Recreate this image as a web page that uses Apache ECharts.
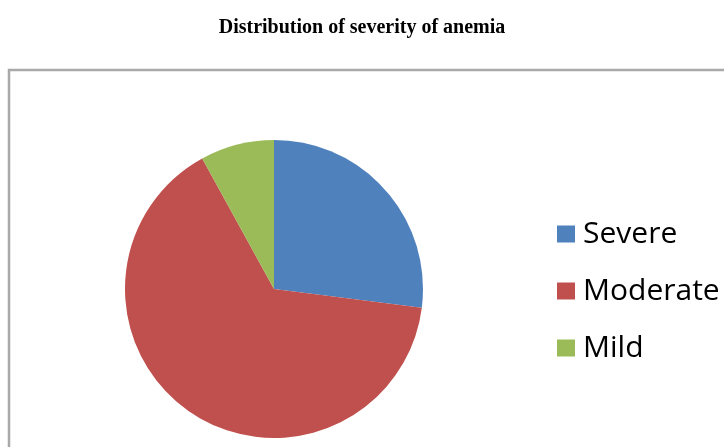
<!DOCTYPE html>
<html>
<head>
<meta charset="utf-8">
<script src="https://cdn.jsdelivr.net/npm/echarts@6/dist/echarts.min.js"></script>
<style>
  html, body { margin: 0; padding: 0; background: #fff; }
  #chart { width: 724px; height: 447px; }
</style>
</head>
<body>
<div id="chart"></div>
<script>
// Severity groups and their share of anemic cases (%)
const categories = ['Severe', 'Moderate', 'Mild'];
const shares = [27, 65, 8];
const colors = ['#4F81BD', '#C0504D', '#9BBB59'];

const chart = echarts.init(document.getElementById('chart'));

chart.setOption({
  backgroundColor: '#ffffff',
  animation: false,
  title: {
    text: 'Distribution of severity of anemia',
    left: 'center',
    top: 13,
    textStyle: {
      fontFamily: '"Liberation Serif", "DejaVu Serif", serif',
      fontWeight: 'bold',
      fontSize: 20,
      color: '#000'
    }
  },
  graphic: [{
    type: 'rect',
    silent: true,
    z: -1,
    shape: { x: 9, y: 70, width: 760, height: 420 },
    style: { fill: 'none', stroke: '#a9a9a9', lineWidth: 2.5 }
  }],
  legend: {
    orient: 'vertical',
    left: 552,
    top: 214,
    icon: 'rect',
    itemWidth: 18,
    itemHeight: 17,
    itemGap: 27,
    textStyle: {
      fontFamily: '"Open Sans", sans-serif',
      fontSize: 30,
      lineHeight: 30,
      color: '#000',
      padding: [0, 0, 0, 3]
    },
    data: categories
  },
  series: [{
    type: 'pie',
    center: [274, 289],
    radius: 149,
    startAngle: 90,
    clockwise: true,
    label: { show: false },
    labelLine: { show: false },
    itemStyle: { borderWidth: 0 },
    emphasis: { disabled: true },
    data: categories.map((name, i) => ({
      name: name,
      value: shares[i],
      itemStyle: { color: colors[i] }
    }))
  }]
});
</script>
</body>
</html>
